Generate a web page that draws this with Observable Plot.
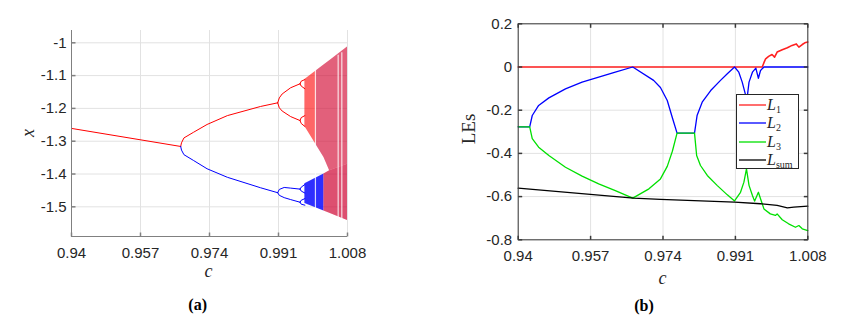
<!DOCTYPE html>
<html>
<head>
<meta charset="utf-8">
<script src="https://cdn.jsdelivr.net/npm/d3@7"></script>
<script src="https://cdn.jsdelivr.net/npm/@observablehq/plot@0.6"></script>
<style>
  html, body { margin: 0; padding: 0; background: #fff; }
  #wrap { position: relative; width: 846px; height: 320px; overflow: hidden; }
  .panel { position: absolute; top: 0; }
  .lbl { position: absolute; font-family: "Liberation Serif", "Times New Roman", serif; color: #262626; white-space: nowrap; transform: translate(-50%, -50%); line-height: 1; }
  .rot { transform: translate(-50%, -50%) rotate(-90deg); }
  .cap { font-weight: bold; font-size: 16px; color: #000; }
  #legend { position: absolute; left: 736px; top: 94px; width: 63px; height: 75px; box-sizing: border-box; border: 1px solid #262626; background: #fff; }
  #legend .row { position: absolute; left: 0; width: 100%; height: 18px; }
  #legend svg { position: absolute; left: 2px; top: 7px; }
  #legend .tx { position: absolute; left: 30px; top: 0; font-family: "Liberation Serif", "Times New Roman", serif; font-size: 16px; color: #262626; line-height: 18px; }
  #legend .tx sub { font-style: normal; font-size: 10px; vertical-align: -3px; }
</style>
</head>
<body>
<div id="wrap">
  <div id="left" class="panel" style="left:0"></div>
  <div id="right" class="panel" style="left:423px"></div>
  <div class="lbl rot" style="left:28px; top:133px; font-size:18px; font-style:italic;">x</div>
  <div class="lbl" style="left:208.5px; top:271px; font-size:18px; font-style:italic;">c</div>
  <div class="lbl rot" style="left:468px; top:129px; font-size:19px;">LEs</div>
  <div class="lbl" style="left:662.5px; top:277.5px; font-size:18px; font-style:italic;">c</div>
  <div class="lbl cap" style="left:197.7px; top:305px;">(a)</div>
  <div class="lbl cap" style="left:644px; top:306px;">(b)</div>
  <div id="legend"></div>
</div>
<script>
// ---------- shared axis data ----------
const cTicks = [0.94, 0.957, 0.974, 0.991, 1.008];
const cTickLabels = ["0.94", "0.957", "0.974", "0.991", "1.008"];
const cDomain = [0.94, 1.008];

// ---------- (a) bifurcation diagram ----------
const xTicks = [-1, -1.1, -1.2, -1.3, -1.4, -1.5];
const xTickLabels = ["-1", "-1.1", "-1.2", "-1.3", "-1.4", "-1.5"];
const xDomain = [-1.5905, -0.9625];

// periodic branches: [c, x]
const period1 = [[0.94, -1.261], [0.9669, -1.316]];
const p2Upper = [[0.9669, -1.316], [0.9671, -1.305], [0.9677, -1.290], [0.9701, -1.2725], [0.9734, -1.249], [0.9784, -1.222], [0.9866, -1.194], [0.9908, -1.183]];
const p2Lower = [[0.9669, -1.316], [0.9671, -1.327], [0.9677, -1.341], [0.9701, -1.359], [0.9734, -1.384], [0.9784, -1.41], [0.9866, -1.442], [0.9908, -1.457]];
const p4UpperA = [[0.9908, -1.183], [0.9912, -1.168], [0.9919, -1.156], [0.994, -1.137], [0.9963, -1.125]];
const p4UpperB = [[0.9908, -1.183], [0.9912, -1.198], [0.9919, -1.208], [0.994, -1.225], [0.9963, -1.237]];
const p4LowerA = [[0.9908, -1.457], [0.9912, -1.447], [0.9924, -1.441], [0.994, -1.443], [0.9963, -1.446]];
const p4LowerB = [[0.9908, -1.457], [0.9912, -1.465], [0.9924, -1.472], [0.994, -1.478], [0.9963, -1.486]];
const p8UpperA1 = [[0.9963, -1.125], [0.9966, -1.117], [0.9975, -1.112]];
const p8UpperA2 = [[0.9963, -1.125], [0.9966, -1.132], [0.9975, -1.14]];
const p8UpperB1 = [[0.9963, -1.237], [0.9966, -1.228], [0.9975, -1.222]];
const p8UpperB2 = [[0.9963, -1.237], [0.9966, -1.246], [0.9975, -1.255]];
const p8LowerA1 = [[0.9963, -1.446], [0.9966, -1.44], [0.9975, -1.432]];
const p8LowerA2 = [[0.9963, -1.446], [0.9966, -1.452], [0.9975, -1.458]];
const p8LowerB1 = [[0.9963, -1.486], [0.9966, -1.48], [0.9975, -1.475]];
const p8LowerB2 = [[0.9963, -1.486], [0.9966, -1.492], [0.9975, -1.495]];

// chaotic bands: [c, top, bottom]
const upperBand = [[0.9975, -1.112, -1.255], [1.0022, -1.068, -1.35], [1.0036, -1.055, -1.39], [1.008, -1.013, -1.37]];
const upperMix = [[1.0003, -1.086, -1.312], [1.0022, -1.068, -1.35], [1.0036, -1.055, -1.39], [1.008, -1.013, -1.37]];
const lowerBandBlue = [[0.9975, -1.43, -1.49], [1.0022, -1.40, -1.513]];
const lowerBandRed = [[1.0022, -1.40, -1.513], [1.0036, -1.39, -1.52], [1.008, -1.37, -1.542]];
// periodic windows inside chaos: [c, top, bottom]
const windows = [[1.0001, -1.08, -1.52], [1.0057, -1.038, -1.533], [1.0066, -1.03, -1.537]];

const branches = [
  {id: "p1", side: "upper", pts: period1},
  {id: "p2u", side: "upper", pts: p2Upper},
  {id: "p2l", side: "lower", pts: p2Lower},
  {id: "p4ua", side: "upper", pts: p4UpperA},
  {id: "p4ub", side: "upper", pts: p4UpperB},
  {id: "p4la", side: "lower", pts: p4LowerA},
  {id: "p4lb", side: "lower", pts: p4LowerB},
  {id: "p8ua1", side: "upper", pts: p8UpperA1},
  {id: "p8ua2", side: "upper", pts: p8UpperA2},
  {id: "p8ub1", side: "upper", pts: p8UpperB1},
  {id: "p8ub2", side: "upper", pts: p8UpperB2},
  {id: "p8la1", side: "lower", pts: p8LowerA1},
  {id: "p8la2", side: "lower", pts: p8LowerA2},
  {id: "p8lb1", side: "lower", pts: p8LowerB1},
  {id: "p8lb2", side: "lower", pts: p8LowerB2}
];
const branchRows = branches.flatMap(b => b.pts.map(([c, x]) => ({c, x, id: b.id, side: b.side})));
const band = arr => arr.map(([c, top, bottom]) => ({c, top, bottom}));

// ---------- (b) Lyapunov exponents ----------
const lesTicks = [0.2, 0, -0.2, -0.4, -0.6, -0.8];
const lesTickLabels = ["0.2", "0", "-0.2", "-0.4", "-0.6", "-0.8"];
const lesDomain = [-0.8, 0.2];

const L1 = [[0.94, 0], [0.9973, 0], [0.9977, 0.02], [0.9981, 0.038], [0.9988, 0.049], [0.9996, 0.058], [1.0002, 0.046], [1.0008, 0.069], [1.002, 0.080], [1.0032, 0.089], [1.0043, 0.1], [1.0053, 0.107], [1.0059, 0.092], [1.0067, 0.104], [1.0073, 0.112], [1.008, 0.116]];
const L2 = [[0.94, -0.277], [0.9427, -0.277], [0.9433, -0.2245], [0.9448, -0.178], [0.9472, -0.143], [0.9511, -0.101], [0.955, -0.070], [0.9589, -0.047], [0.9628, -0.024], [0.9669, 0], [0.9718, -0.062], [0.9734, -0.095], [0.975, -0.155], [0.9762, -0.235], [0.9773, -0.306], [0.9814, -0.306], [0.982, -0.225], [0.9832, -0.163], [0.9852, -0.109], [0.9875, -0.062], [0.9891, -0.031], [0.9908, 0], [0.9918, -0.024], [0.9926, -0.070], [0.9934, -0.13], [0.9938, -0.135], [0.9942, -0.07], [0.995, -0.024], [0.9958, -0.005], [0.9964, -0.052], [0.9969, -0.016], [0.9977, 0], [1.008, 0]];
const L3 = [[0.94, -0.277], [0.9427, -0.277], [0.9433, -0.332], [0.9448, -0.371], [0.9472, -0.41], [0.9511, -0.464], [0.955, -0.505], [0.9589, -0.541], [0.9628, -0.572], [0.9669, -0.607], [0.9707, -0.564], [0.9734, -0.518], [0.975, -0.46], [0.9762, -0.39], [0.9773, -0.306], [0.9814, -0.306], [0.9819, -0.41], [0.9828, -0.456], [0.9844, -0.502], [0.9867, -0.548], [0.9891, -0.592], [0.9908, -0.62], [0.9922, -0.58], [0.993, -0.533], [0.9936, -0.472], [0.9942, -0.548], [0.995, -0.595], [0.9955, -0.621], [0.9964, -0.58], [0.9969, -0.61], [0.9977, -0.657], [0.9992, -0.68], [1.0004, -0.687], [1.0008, -0.68], [1.002, -0.707], [1.0035, -0.726], [1.0051, -0.742], [1.0059, -0.734], [1.0067, -0.749], [1.008, -0.757]];
const Lsum = [[0.94, -0.561], [0.9671, -0.607], [0.9734, -0.613], [0.9908, -0.626], [0.9969, -0.633], [1.0008, -0.641], [1.0032, -0.652], [1.0047, -0.649], [1.008, -0.644]];

const seriesNames = ["L1", "L2", "L3", "Lsum"];
const seriesSubs = ["1", "2", "3", "sum"];
const seriesColors = ["#ff2020", "#0000ff", "#00e000", "#000000"];
const seriesData = [L1, L2, L3, Lsum];
const lesRows = seriesData.flatMap((s, i) => s.map(([c, v]) => ({c, v, name: seriesNames[i]})));

// ---------- helpers ----------
const tickRight = {draw(ctx) { ctx.moveTo(0, 0); ctx.lineTo(4, 0); }};
const tickLeft = {draw(ctx) { ctx.moveTo(0, 0); ctx.lineTo(-4, 0); }};
const tickUp = {draw(ctx) { ctx.moveTo(0, 0); ctx.lineTo(0, -4); }};
const tickDown = {draw(ctx) { ctx.moveTo(0, 0); ctx.lineTo(0, 4); }};
const fmt = (ticks, labels) => d => labels[ticks.indexOf(d)];
const gridColor = "#e2e2e2";
const fontStyle = {fontFamily: "'Liberation Sans', Arial, sans-serif", fontSize: "15px", color: "#262626", background: "transparent", overflow: "visible"};

// ---------- panel (a) ----------
const left = Plot.plot({
  width: 423, height: 290,
  marginLeft: 71, marginRight: 76, marginTop: 30, marginBottom: 54,
  x: {domain: cDomain},
  y: {domain: xDomain},
  style: fontStyle,
  marks: [
    Plot.gridX(cTicks, {stroke: gridColor, strokeOpacity: 1}),
    Plot.gridY(xTicks, {stroke: gridColor, strokeOpacity: 1}),
    Plot.areaY(band(upperBand), {x: "c", y1: "bottom", y2: "top", fill: "#ff0000", fillOpacity: 0.6}),
    Plot.areaY(band(upperMix), {x: "c", y1: "bottom", y2: "top", fill: "#3040ff", fillOpacity: 0.14}),
    Plot.areaY(band(lowerBandBlue), {x: "c", y1: "bottom", y2: "top", fill: "#0000ff", fillOpacity: 0.82}),
    Plot.areaY(band(lowerBandRed), {x: "c", y1: "bottom", y2: "top", fill: "#f00010", fillOpacity: 0.68}),
    Plot.areaY(band(lowerBandRed), {x: "c", y1: "bottom", y2: "top", fill: "#3040ff", fillOpacity: 0.12}),
    Plot.ruleX(band(windows), {x: "c", y1: "bottom", y2: "top", stroke: "#ffffff", strokeWidth: 1.2, strokeOpacity: 0.8}),
    Plot.line(branchRows, {x: "c", y: "x", z: "id", stroke: d => d.side === "upper" ? "#ff0000" : "#0000ff", strokeWidth: 1}),
    Plot.ruleX([cDomain[0]], {stroke: "#808080", strokeWidth: 1}),
    Plot.ruleY([xDomain[0]], {stroke: "#808080", strokeWidth: 1}),
    Plot.dot(xTicks, {x: cDomain[0], y: d => d, symbol: tickRight, stroke: "#808080", fill: "none"}),
    Plot.dot(cTicks, {x: d => d, y: xDomain[0], symbol: tickUp, stroke: "#808080", fill: "none"}),
    Plot.axisX({ticks: cTicks, tickFormat: fmt(cTicks, cTickLabels), tickSize: 0, tickPadding: 11, label: null, fontSize: 15}),
    Plot.axisY({ticks: xTicks, tickFormat: fmt(xTicks, xTickLabels), tickSize: 0, tickPadding: 5, label: null, fontSize: 15})
  ]
});
document.getElementById("left").appendChild(left);

// ---------- panel (b) ----------
const right = Plot.plot({
  width: 423, height: 290,
  marginLeft: 94.7, marginRight: 38.7, marginTop: 23.3, marginBottom: 50.7,
  x: {domain: cDomain},
  y: {domain: lesDomain},
  color: {domain: seriesNames, range: seriesColors},
  style: fontStyle,
  marks: [
    Plot.gridX(cTicks, {stroke: gridColor, strokeOpacity: 1}),
    Plot.gridY(lesTicks, {stroke: gridColor, strokeOpacity: 1}),
    Plot.line(lesRows, {x: "c", y: "v", z: "name", stroke: "name", strokeWidth: d => d.name === "L1" ? 1.6 : 1.3}),
    Plot.frame({stroke: "#3a3a3a", strokeWidth: 1}),
    Plot.dot(lesTicks, {x: cDomain[0], y: d => d, symbol: tickRight, stroke: "#3a3a3a", fill: "none"}),
    Plot.dot(lesTicks, {x: cDomain[1], y: d => d, symbol: tickLeft, stroke: "#3a3a3a", fill: "none"}),
    Plot.dot(cTicks, {x: d => d, y: lesDomain[0], symbol: tickUp, stroke: "#3a3a3a", fill: "none"}),
    Plot.dot(cTicks, {x: d => d, y: lesDomain[1], symbol: tickDown, stroke: "#3a3a3a", fill: "none"}),
    Plot.axisX({ticks: cTicks, tickFormat: fmt(cTicks, cTickLabels), tickSize: 0, tickPadding: 11, label: null, fontSize: 15}),
    Plot.axisY({ticks: lesTicks, tickFormat: fmt(lesTicks, lesTickLabels), tickSize: 0, tickPadding: 6, label: null, fontSize: 15})
  ]
});
document.getElementById("right").appendChild(right);

// ---------- legend ----------
const legend = document.getElementById("legend");
const rowTops = [1, 19.3, 37.6, 56];
seriesNames.forEach((n, i) => {
  const row = document.createElement("div");
  row.className = "row";
  row.style.top = rowTops[i] + "px";
  row.innerHTML = `<svg width="27" height="4"><line x1="0" x2="27" y1="2" y2="2" stroke="${seriesColors[i]}" stroke-width="1.3"/></svg><div class="tx"><i>L</i><sub>${seriesSubs[i]}</sub></div>`;
  legend.appendChild(row);
});
</script>
</body>
</html>
